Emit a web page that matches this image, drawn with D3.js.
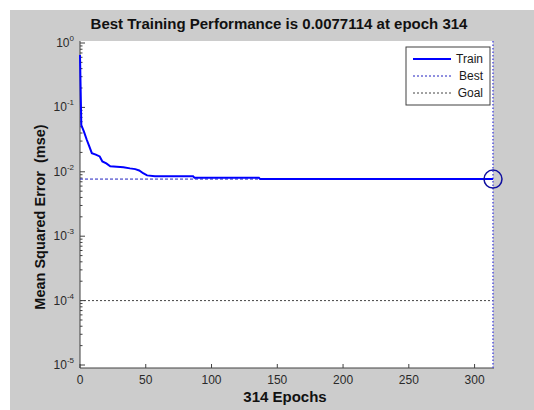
<!DOCTYPE html>
<html lang="en">
<head>
  <meta charset="utf-8" />
  <script src="https://d3js.org/d3.v7.min.js"></script>
  <style>
    body { margin: 0; background: #fff; }
    text { font-family: "Liberation Sans", Arial, sans-serif; }
  </style>
  <title>Best Training Performance</title>
</head>
<body>
<svg width="534" height="410"></svg>
<script>

// training performance (mse) per epoch
var epochs = [0, 1, 3, 5, 7, 9, 12, 15, 17, 20, 23, 28, 33, 38, 42, 45, 48, 51, 57, 86, 87, 136, 137, 314];
var perf = [0.65, 0.053, 0.042, 0.032, 0.025, 0.0195, 0.0185, 0.0173, 0.0145, 0.0135, 0.0122, 0.012,
            0.0118, 0.0113, 0.011, 0.0105, 0.0095, 0.0088, 0.0085, 0.0085, 0.0081, 0.0081, 0.0077114, 0.0077114];

var bestEpoch = 314, bestPerf = 0.0077114, goal = 1e-4;
var xTicks = [0, 50, 100, 150, 200, 250, 300];
var yTicks = [1e-5, 1e-4, 1e-3, 1e-2, 1e-1, 1];
var legendItems = ["Train", "Best", "Goal"];

var svg = d3.select("svg");
var pLeft = 80, pRight = 493, pTop = 41, pBottom = 368;

// figure background
svg.append("rect")
  .attr("x", 10).attr("y", 10)
  .attr("width", 524).attr("height", 400)
  .attr("fill", "#cccccc");

svg.append("rect")
  .attr("x", pLeft).attr("y", pTop)
  .attr("width", pRight - pLeft).attr("height", pBottom - pTop)
  .attr("fill", "#fff");

var x = d3.scaleLinear().domain([0, bestEpoch]).range([pLeft, pRight]);
var y = d3.scaleLog().domain([1e-5, 1]).range([365, 43]);

// x axis
var xg = svg.append("g").attr("transform", "translate(0," + pBottom + ")");
xg.append("line").attr("x1", pLeft).attr("x2", pRight + 1).attr("stroke", "#404040");
xTicks.forEach(function(t) {
  xg.append("line").attr("x1", x(t)).attr("x2", x(t)).attr("y1", 0).attr("y2", -4).attr("stroke", "#404040");
  xg.append("text").attr("x", x(t)).attr("y", 16).attr("text-anchor", "middle")
    .attr("font-size", 12).attr("fill", "#2a2a2a").text(t);
});

// y axis with minor ticks
var yg = svg.append("g");
yg.append("line").attr("x1", pLeft).attr("x2", pLeft).attr("y1", pTop).attr("y2", pBottom).attr("stroke", "#404040");
for (var e = -5; e < 0; e++) {
  for (var m = 2; m <= 9; m++) {
    var v = m * Math.pow(10, e);
    yg.append("line").attr("x1", pLeft).attr("x2", pLeft + 2.5).attr("y1", y(v)).attr("y2", y(v)).attr("stroke", "#404040");
  }
}
yTicks.forEach(function(t) {
  var p = Math.round(Math.log10(t));
  yg.append("line").attr("x1", pLeft).attr("x2", pLeft + 5).attr("y1", y(t)).attr("y2", y(t)).attr("stroke", "#404040");
  var lab = yg.append("text").attr("x", 74).attr("y", y(t) + 4).attr("text-anchor", "end")
    .attr("font-size", 12).attr("fill", "#2a2a2a");
  lab.append("tspan").text("10");
  lab.append("tspan").attr("dy", -6).attr("font-size", 8).text(p);
});

// goal and best lines
svg.append("line").attr("x1", pLeft).attr("x2", pRight).attr("y1", y(goal)).attr("y2", y(goal))
  .attr("stroke", "#444").attr("stroke-dasharray", "2,2");
svg.append("line").attr("x1", pLeft).attr("x2", pRight).attr("y1", y(bestPerf)).attr("y2", y(bestPerf))
  .attr("stroke", "#2020c0").attr("stroke-dasharray", "3,2");
svg.append("line").attr("x1", x(bestEpoch)).attr("x2", x(bestEpoch)).attr("y1", pTop).attr("y2", pBottom)
  .attr("stroke", "#5555dd").attr("stroke-width", 1.5).attr("stroke-dasharray", "1.5,2");

// training curve
var line = d3.line().x(function(d, i) { return x(epochs[i]); }).y(function(d) { return y(d); });
svg.append("path").datum(perf)
  .attr("d", line)
  .attr("fill", "none")
  .attr("stroke", "#0000ff")
  .attr("stroke-width", 2);

// best marker
svg.append("circle").attr("cx", x(bestEpoch)).attr("cy", y(bestPerf)).attr("r", 9)
  .attr("fill", "none").attr("stroke", "#1010a0").attr("stroke-width", 1.5);

// legend
var lg = svg.append("g");
lg.append("rect").attr("x", 406).attr("y", 47).attr("width", 84).attr("height", 58)
  .attr("fill", "#fff").attr("stroke", "#404040");
var legStyles = [
  { stroke: "#0000ff", dash: null, w: 2 },
  { stroke: "#2020c0", dash: "2,2", w: 1 },
  { stroke: "#444", dash: "2,2", w: 1 }
];
legendItems.forEach(function(name, i) {
  var ly = 59 + i * 17;
  lg.append("line").attr("x1", 413).attr("x2", 451).attr("y1", ly).attr("y2", ly)
    .attr("stroke", legStyles[i].stroke).attr("stroke-width", legStyles[i].w)
    .attr("stroke-dasharray", legStyles[i].dash);
  lg.append("text").attr("x", 483).attr("y", ly + 4).attr("text-anchor", "end")
    .attr("font-size", 12).attr("fill", "#1a1a1a").text(name);
});

// titles
svg.append("text").attr("x", 279).attr("y", 29).attr("text-anchor", "middle")
  .attr("font-size", 15).attr("font-weight", "bold").attr("fill", "#111")
  .text("Best Training Performance is " + bestPerf + " at epoch " + bestEpoch);

svg.append("text").attr("x", 285).attr("y", 402).attr("text-anchor", "middle")
  .attr("font-size", 15).attr("font-weight", "bold").attr("fill", "#111")
  .text(bestEpoch + " Epochs");

svg.append("text")
  .attr("transform", "translate(45,217) rotate(-90)")
  .attr("text-anchor", "middle")
  .attr("font-size", 14.5).attr("font-weight", "bold").attr("fill", "#111")
  .style("white-space", "pre")
  .text("Mean Squared Error  (mse)");

</script>
</body>
</html>
